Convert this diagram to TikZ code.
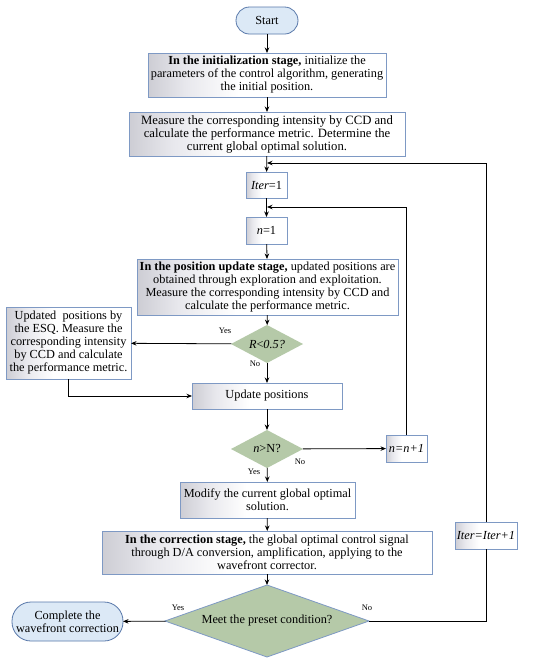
\documentclass[tikz,border=0pt]{standalone}
\usepackage{fontspec}
\setmainfont{Liberation Serif}
\usetikzlibrary{shapes.geometric,arrows.meta}
\definecolor{boxblue}{RGB}{126,153,196}
\definecolor{termborder}{RGB}{88,120,170}
\definecolor{termfill}{RGB}{220,233,246}
\definecolor{dgreen}{RGB}{181,201,168}
\definecolor{shadegray}{RGB}{205,205,212}
\definecolor{shademid}{RGB}{232,232,237}
\pgfdeclarehorizontalshading{boxshade}{100bp}{color(0bp)=(shadegray); color(25bp)=(shadegray); color(33bp)=(shademid); color(44bp)=(white); color(100bp)=(white)}
\begin{document}
\begin{tikzpicture}[x=1pt,y=-1pt,
  every node/.style={outer sep=0pt},
  box/.style={draw=boxblue, line width=0.8pt, shading=boxshade,
    align=center, inner sep=0pt, font=\fontsize{12.3}{13}\selectfont},
  term/.style={draw=termborder, line width=0.8pt, fill=termfill, align=center, inner sep=0pt,
    font=\fontsize{12.3}{13}\selectfont},
  dia/.style={diamond, fill=dgreen, inner sep=0pt, align=center, font=\fontsize{12.3}{13}\selectfont},
  lbl/.style={font=\fontsize{8.5}{9}\selectfont, inner sep=0pt},
  arr/.style={line width=0.8pt, -{Stealth[length=5.5pt,width=4.5pt]}},
  ln/.style={line width=0.8pt}]
\useasboundingbox (0,0) rectangle (550,665);
\fill[white] (0,0) rectangle (550,665);

\node[term, rounded corners=13.5pt, minimum width=62pt, minimum height=27pt] (start) at (267,20.5) {Start};
\node[box, minimum width=238pt, minimum height=44pt] (init) at (267,75)
  {\textbf{In the initialization stage,} initialize the\\parameters of the control algorithm, generating\\the initial position.};
\node[box, minimum width=276pt, minimum height=44pt, font=\fontsize{12.7}{13}\selectfont] (meas) at (267,134)
  {Measure the corresponding intensity by CCD and\\calculate the performance metric. Determine the\\current global optimal solution.};
\node[box, minimum width=41pt, minimum height=26pt] (iter1) at (266.5,185) {\textit{Iter}=1};
\node[box, minimum width=41pt, minimum height=27pt] (n1) at (266.5,230.5) {\textit{n}=1};
\node[box, minimum width=261pt, minimum height=56pt] (pos) at (267.5,287)
  {\textbf{In the position update stage,} updated positions are\\obtained through exploration and exploitation.\\Measure the corresponding intensity by CCD and\\calculate the performance metric.};
\node[dia, shape aspect=2, minimum width=72pt, minimum height=38pt] (d1) at (267,344) {\textit{R}<\textit{0.5?}};
\node[box, minimum width=125pt, minimum height=72pt] (esq) at (68.5,343)
  {Updated~~positions by\\the ESQ. Measure the\\corresponding intensity\\by CCD and calculate\\the performance metric.};
\node[box, minimum width=150pt, minimum height=26pt] (upd) at (267,396) {Update positions};
\node[dia, shape aspect=2, minimum width=72pt, minimum height=38pt] (d2) at (267,449) {\textit{n}>N?};
\node[box, minimum width=41pt, minimum height=27pt] (nn1) at (406.5,448.5) {\textit{n=n+1}};
\node[box, minimum width=175pt, minimum height=36pt] (mod) at (267.5,500)
  {Modify the current global optimal\\solution.};
\node[box, minimum width=330pt, minimum height=43pt] (corr) at (267,552.5)
  {\textbf{In the correction stage,} the global optimal control signal\\through D/A conversion, amplification, applying to the\\wavefront corrector.};
\node[dia, draw=boxblue, line width=0.8pt, shape aspect=3, minimum width=204pt, minimum height=72pt] (d3) at (267,621)
  {Meet the preset condition?};
\node[term, rounded corners=19pt, minimum width=111pt, minimum height=39pt] (comp) at (67.5,621.5)
  {Complete the\\wavefront correction};
\node[box, minimum width=62pt, minimum height=27pt] (iterp) at (486,535.5) {\textit{Iter=Iter+1}};

% labels
\node[lbl] (y1) at (225,331) {Yes};
\node[lbl] (n1l) at (255,364) {No};
\node[lbl] (n2l) at (300,462) {No};
\node[lbl] (y2) at (254,472) {Yes};
\node[lbl] (y3) at (178,608) {Yes};
\node[lbl] (n3l) at (367,608) {No};

% coordinates for loop entries
\coordinate (in1) at (267,163);
\coordinate (in2) at (267,207);
\coordinate (rc) at (486,621);
\coordinate (esqc) at (68,396);

% main flow
\draw[arr] (start) -- (init);
\draw[arr] (init) -- (meas);
\draw[arr] (meas) -- (iter1);
\draw[arr] (iter1) -- (n1);
\draw[arr] (n1) -- (pos);
\draw[arr] (pos) -- (d1);
\draw[arr] (d1) -- (esq);
\draw[arr] (d1) -- (upd);
\draw[arr] (esq.south -| esqc) -- (esqc) -- (upd.west);
\draw[arr] (upd) -- (d2);
\draw[arr] (d2) -- (nn1);
\draw[arr] (d2) -- (mod);
\draw[arr] (mod) -- (corr);
\draw[arr] (corr) -- (d3);
\draw[arr] (d3) -- (comp);

% loops
\draw[arr] (nn1.north) |- (in2);
\draw[ln] (d3.east) -- (rc) -- (iterp.south);
\draw[arr] (iterp.north) |- (in1);
\end{tikzpicture}
\end{document}
